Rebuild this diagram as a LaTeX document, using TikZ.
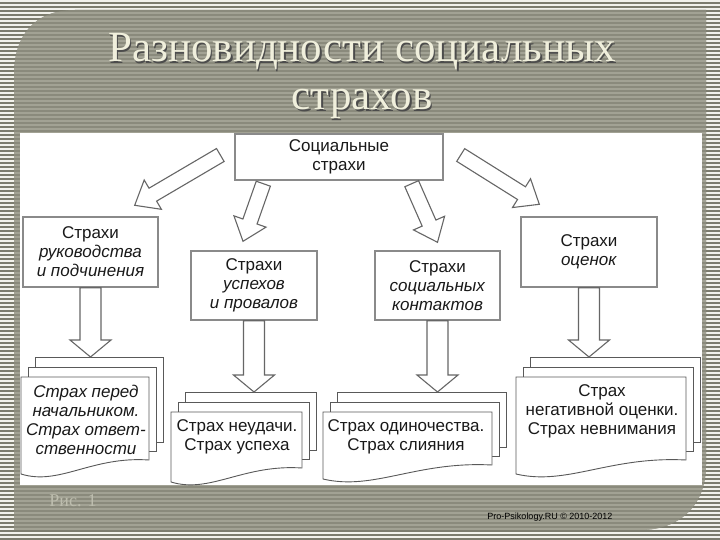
\documentclass[tikz,border=0pt]{standalone}
\usepackage{fontspec}
\setmainfont{Liberation Serif}
\setsansfont{Liberation Sans}
\usepackage{tikz}
\usetikzlibrary{calc, positioning}

\definecolor{stripedark}{HTML}{7C7C6E}
\definecolor{stripelight}{HTML}{F2F2EC}
\definecolor{panelgray}{HTML}{8A8A7C}
\definecolor{panelline}{HTML}{A2A294}
\definecolor{titlecream}{HTML}{F0EFDC}
\definecolor{boxline}{HTML}{8A8A8A}
\definecolor{arrowline}{HTML}{666666}
\definecolor{figgray}{HTML}{BDBDAE}

% hollow block arrow: from, to, half shaft, half head, head length
\newcommand{\blockarrow}[5]{%
    \coordinate (hb) at ($(#2)!#5!(#1)$);
    \draw[barrow] ($(#1)!#3!90:(#2)$) -- ($(hb)!#3!90:(#2)$) -- ($(hb)!#4!90:(#2)$)
        -- (#2) -- ($(hb)!#4!-90:(#2)$) -- ($(hb)!#3!-90:(#2)$) -- ($(#1)!#3!-90:(#2)$) -- cycle;
}

% stack of three sheets: name, left, top, right, bottom right of the front sheet
\newcommand{\docstack}[5]{%
    \coordinate (#1) at (#2+14,#3-20);
    \draw[sheet] (#2+14,#3-20) rectangle (#4+14,#5-18);
    \draw[sheet] (#2+7,#3-10) rectangle (#4+7,#5-9);
    \draw[sheet] (#2,#3) -- (#4,#3) -- (#4,#5)
        .. controls (#2+0.55*#4-0.55*#2,#5-4) and (#2+0.3*#4-0.3*#2,#5+26) .. (#2,#5+14) -- cycle;
}

\begin{document}
\begin{tikzpicture}[
    x=1pt, y=-1pt,
    every node/.style={font=\sffamily\fontsize{17}{19}\selectfont, text=black!90},
    box/.style={draw=boxline, line width=1.4pt, fill=white, align=center, inner sep=0pt},
    sheet/.style={draw=black!65, line width=0.9pt, fill=white},
    barrow/.style={draw=arrowline, line width=1.1pt, fill=white},
    note/.style={align=center, inner sep=0pt},
    titletext/.style={font=\rmfamily\fontsize{43}{46}\selectfont, anchor=base, inner sep=0pt},
    ]

    \useasboundingbox (0,0) rectangle (720,540);

    % Striped background
    \fill[stripedark] (0,0) rectangle (720,540);
    \foreach \y in {0,4,...,536} {
        \fill[stripelight] (0,\y) rectangle (720,\y+2);
    }

    % Slide panel
    \begin{scope}
        \clip (14,530) -- (14,75) .. controls (14,35) and (35,10) .. (75,10) -- (706,10)
            -- (706,465) .. controls (706,505) and (680,530) .. (640,530) -- cycle;
        \fill[panelgray] (0,0) rectangle (720,540);
        \foreach \y in {0,4,...,536} {
            \fill[panelline] (0,\y) rectangle (720,\y+2);
        }
    \end{scope}

    % Picture area
    \fill[white] (20,133) rectangle (702,485);

    % Title
    \node[titletext, text=black!70] (t1s) at (363.5,63.5) {Разновидности социальных};
    \node[titletext, text=titlecream] (t1) at (362,62) {Разновидности социальных};
    \node[titletext, text=black!70] (t2s) at (363.5,111.5) {страхов};
    \node[titletext, text=titlecream] (t2) at (362,110) {страхов};

    % Boxes
    \node[box, minimum width=208pt, minimum height=46pt] (soc) at (339,157) {Социальные\\страхи};
    \node[box, minimum width=135pt, minimum height=70pt] (lead) at (90.5,252) {Страхи\\\textit{руководства}\\\textit{и подчинения}};
    \node[box, minimum width=126pt, minimum height=69pt] (succ) at (254,285.5) {Страхи\\\textit{успехов}\\\textit{и провалов}};
    \node[box, minimum width=125pt, minimum height=69pt] (cont) at (437.5,285.5) {Страхи\\\textit{социальных}\\\textit{контактов}};
    \node[box, minimum width=136pt, minimum height=70pt] (eval) at (589,252) {Страхи\\\textit{оценок}};

    % Arrows from the top box
    \coordinate (a1s) at ($(soc.west)+(-14,-2)$);
    \coordinate (a1e) at ($(lead.north east)+(-24,-11)$);
    \coordinate (a2s) at ($(soc.south west)+(29,3)$);
    \coordinate (a2e) at ($(succ.north)+(-11,-9)$);
    \coordinate (a3s) at ($(soc.south east)+(-32,3)$);
    \coordinate (a3e) at ($(cont.north)+(0,-8)$);
    \coordinate (a4s) at ($(soc.east)+(17,-2)$);
    \coordinate (a4e) at ($(eval.north west)+(19,-12)$);
    \foreach \i in {1,...,4} {
        \blockarrow{a\i s}{a\i e}{7.5pt}{17pt}{21pt}
    }

    % Sheet stacks
    \docstack{s1}{21}{377}{149}{460}
    \docstack{s2}{171}{412}{302}{468}
    \docstack{s3}{323}{412}{492}{465}
    \docstack{s4}{516}{377}{686}{460}

    \node[note] (boss) at (86,420) {\textit{Страх перед}\\\textit{начальником.}\\\textit{Страх ответ-}\\\textit{ственности}};
    \node[note] (fail) at (237,437) {Страх неудачи.\\Страх успеха};
    \node[note] (alone) at (406,437) {Страх одиночества.\\Страх слияния};
    \node[note] (neg) at (602,411) {Страх\\негативной оценки.\\Страх невнимания};

    % Arrows down to the stacks
    \coordinate (v1) at (lead.south |- s1);
    \coordinate (v2) at (succ.south |- s2);
    \coordinate (v3) at (cont.south |- s3);
    \coordinate (v4) at (eval.south |- s4);
    \blockarrow{lead.south}{v1}{10.5pt}{20.5pt}{17pt}
    \blockarrow{succ.south}{v2}{10.5pt}{20.5pt}{17pt}
    \blockarrow{cont.south}{v3}{10.5pt}{20.5pt}{17pt}
    \blockarrow{eval.south}{v4}{10.5pt}{20.5pt}{17pt}

    % Footer
    \node[font=\rmfamily\fontsize{18}{20}\selectfont, text=figgray] (fig) at (73,501) {Рис. 1};
    \node[font=\sffamily\fontsize{9}{10}\selectfont, text=black] (credit) at (550,517) {Pro-Psikology.RU © 2010-2012};

\end{tikzpicture}
\end{document}
